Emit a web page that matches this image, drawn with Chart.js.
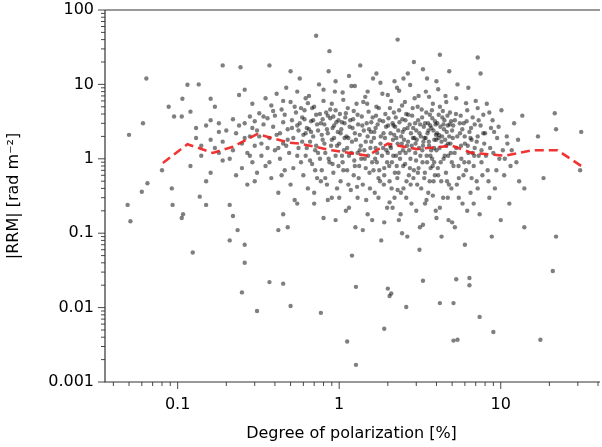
<!DOCTYPE html>
<html><head><meta charset="utf-8">
<script src="https://cdn.jsdelivr.net/npm/chart.js@4"></script>
<style>html,body{margin:0;padding:0;background:#fff}#c{display:block}</style>
</head><body>
<div style="width:602px;height:447px"><canvas id="c" width="602" height="447"></canvas></div>
<script>
const outliers=[[0.049,0.24],[0.051,0.145],[0.05,2.1],[0.064,12],[0.061,3.0],[0.06,0.36],[0.065,0.47],[0.08,0.7],[0.088,5],[0.095,3.7],[0.093,0.24],[0.092,0.4],[0.106,3.7],[0.107,6.4],[0.115,9.9],[0.135,10],[0.124,0.055],[0.106,0.16],[0.108,0.18],[0.12,4.3],[0.137,0.31],[0.15,0.24],[0.16,6.4],[0.19,18],[0.21,0.24],[0.21,0.08],[0.22,0.17],[0.245,17],[0.235,0.11],[0.25,0.016],[0.26,0.04],[0.26,0.07],[0.31,0.009],[0.37,18],[0.37,0.022],[0.45,0.021],[0.5,0.0105],[0.5,15],[0.45,0.18],[0.48,0.12],[0.42,0.11],
[0.72,45],[2.3,40],[0.87,28],[7.2,23],[4.2,25],[4.2,0.0115],[5.1,0.0115],[5.1,0.0036],[5.4,0.0037],[9.0,0.0047],[17.6,0.0037],[1.27,0.0017],[1.12,0.0035],[1.9,0.0052],[7.4,0.0075],[0.77,0.0085],[2.6,0.0102],[2.0,0.018],[2.05,0.0143],[2.1,0.0155],[1.27,0.019],[3.3,0.023],[5.3,0.024],[6.4,0.02],[6.4,0.025],[21,0.031],[22,0.09],[31.5,2.3],[31,0.7],[21.6,4.1],[22,2.5],[18.4,0.55],[14,0.12],[14,0.4],[13.6,3.8],[17,2.0]];
const cloud=[[0.3,3.2],[0.31,2.4],[0.32,4.1],[0.33,1.1],[0.34,2.9],[0.35,6.5],[0.35,0.8],[0.36,3.5],[0.37,1.9],[0.38,5.2],[0.38,0.55],[0.39,2.7],[0.4,3.8],[0.4,1.3],[0.41,7.5],[0.42,0.35],[0.43,2.2],[0.44,4.6],[0.45,1.6],[0.45,3.1],[0.46,0.7],[0.47,9.0],[0.48,2.5],[0.49,1.2],[0.5,5.8],[0.5,0.45],[0.51,3.3],[0.52,1.9],[0.53,0.28],[0.54,4.2],[0.55,2.8],[0.56,1.4],[0.57,12],[0.58,0.9],[0.59,3.6],[0.6,2.1],
[0.2,2.4],[0.21,1.0],[0.22,3.4],[0.23,0.6],[0.24,7.2],[0.25,1.6],[0.26,3.0],[0.27,0.45],[0.28,2.0],[0.29,5.5],[0.27,1.2],[0.25,0.75],[0.23,2.2],[0.29,0.9],[0.28,3.7],[0.26,8.5],[0.3,0.5],[0.3,1.5],
[0.13,1.9],[0.14,1.1],[0.15,2.8],[0.16,0.65],[0.17,1.4],[0.18,2.3],[0.19,0.95],[0.16,3.3],[0.15,0.5],[0.18,1.2],[0.12,0.8],[0.13,2.6],[0.17,5.0],[0.19,1.7],
[0.6,0.6],[0.61,4.5],[0.62,1.1],[0.63,2.6],[0.64,0.4],[0.65,7.0],[0.66,1.7],[0.67,3.2],[0.68,0.85],[0.69,2.0],[0.7,5.0],[0.7,0.25],[0.71,1.3],[0.72,3.9],[0.73,0.55],[0.74,2.4],[0.75,10],[0.76,1.0],[0.77,3.0],[0.78,0.7],[0.79,1.8],[0.8,6.0],[0.8,0.16],[0.81,2.9],[0.82,1.2],[0.83,4.2],[0.84,0.45],[0.85,2.2],[0.86,15],[0.87,0.9],[0.88,3.5],[0.89,1.5],[0.9,0.3],[0.9,5.5],[0.91,2.6],[0.92,0.65],[0.93,1.9],[0.94,8.0],[0.95,1.1],[0.96,3.1],[0.97,0.4],[0.98,2.3],[0.99,0.8],[0.65,2.5],[0.72,1.5],[0.85,3.8],[0.68,4.8],[0.78,2.1],[0.92,3.7],[0.63,1.4],
[1.0,1.6],[1.01,4.0],[1.02,0.5],[1.03,2.5],[1.05,0.9],[1.06,6.2],[1.07,1.3],[1.08,3.0],[1.1,0.2],[1.11,2.0],[1.12,0.7],[1.13,4.8],[1.15,1.1],[1.16,2.7],[1.18,0.38],[1.19,9.5],[1.2,1.7],[1.22,3.4],[1.23,0.6],[1.25,2.2],[1.26,0.12],[1.28,5.5],[1.3,1.2],[1.31,2.9],[1.33,0.8],[1.35,18],[1.36,1.5],[1.38,3.7],[1.4,0.45],[1.42,2.4],[1.44,1.0],[1.45,6.8],[1.47,0.28],[1.5,2.0],[1.52,4.3],[1.54,0.65],[1.56,1.4],[1.58,3.1],[1.6,0.9],[1.62,12],[1.64,1.9],[1.66,0.35],[1.68,2.6],[1.7,5.0],[1.72,1.2],[1.75,0.55],[1.78,3.3],[1.8,1.6],[1.82,0.08],[1.85,7.5],[1.88,2.2],[1.9,0.75],[1.93,4.0],[1.96,1.3],[1.98,0.22],[1.04,1.1],[1.14,1.9],[1.24,0.95],[1.34,1.3],[1.46,1.7],[1.57,2.3],[1.67,1.0],[1.77,0.7],[1.87,1.4],[1.09,3.6],[1.29,0.42],[1.49,5.5],[1.69,3.8],[1.89,0.45],[1.2,0.05],[1.6,0.15],
[2.0,1.2],[2.02,3.5],[2.05,0.5],[2.08,2.2],[2.1,6.0],[2.12,0.9],[2.15,1.8],[2.18,4.2],[2.2,0.3],[2.22,2.7],[2.25,1.1],[2.28,9.0],[2.3,1.6],[2.33,0.65],[2.36,3.1],[2.4,0.18],[2.42,2.0],[2.45,5.2],[2.48,1.3],[2.5,0.4],[2.53,2.5],[2.56,0.85],[2.6,4.0],[2.63,1.5],[2.66,14],[2.7,0.6],[2.73,2.9],[2.76,1.0],[2.8,0.25],[2.83,3.8],[2.86,1.9],[2.9,0.7],[2.93,6.5],[2.96,1.2],[3.0,2.4],[3.04,0.45],[3.08,3.3],[3.12,1.4],[3.16,0.12],[3.2,2.0],[3.24,4.6],[3.28,0.9],[3.32,1.7],[3.36,0.55],[3.4,3.0],[3.44,8.0],[3.48,1.1],[3.52,2.2],[3.56,0.35],[3.6,1.5],[3.64,3.9],[3.68,0.75],[3.72,2.6],[3.76,1.0],[3.8,5.5],[3.84,0.5],[3.88,1.8],[3.92,3.2],[3.96,0.2],[2.07,1.5],[2.17,2.8],[2.27,0.8],[2.37,1.2],[2.47,2.3],[2.57,3.3],[2.67,1.7],[2.77,0.45],[2.87,2.6],[2.97,1.6],[3.07,0.65],[3.17,2.9],[3.27,1.3],[3.37,1.9],[3.47,0.28],[3.57,2.4],[3.67,1.1],[3.77,3.5],[3.87,0.9],[3.97,2.1],[2.14,0.22],[2.64,0.09],[3.14,0.06],[2.34,0.15],[2.9,20],[3.5,12],[2.2,11],
[4.0,1.3],[4.05,3.0],[4.1,0.6],[4.15,2.1],[4.2,5.0],[4.25,0.9],[4.3,1.7],[4.35,3.6],[4.4,0.3],[4.45,2.5],[4.5,1.1],[4.55,7.0],[4.6,1.5],[4.65,0.5],[4.7,2.8],[4.75,0.15],[4.8,2.0],[4.85,4.2],[4.9,1.2],[4.95,0.4],[5.0,2.4],[5.1,0.8],[5.2,3.3],[5.3,1.4],[5.4,10],[5.5,0.55],[5.6,2.2],[5.7,1.0],[5.8,0.25],[5.9,3.0],[6.0,1.6],[6.1,0.7],[6.2,4.5],[6.3,1.2],[6.4,2.3],[6.5,0.35],[6.6,1.8],[6.7,3.6],[6.8,0.8],[6.9,1.4],[7.0,6.0],[7.1,0.5],[7.2,2.0],[7.3,1.1],[7.4,0.18],[7.5,2.8],[7.6,1.3],[7.7,0.6],[7.8,3.9],[7.9,1.6],[4.12,1.9],[4.42,2.9],[4.72,1.6],[5.05,1.9],[5.35,0.45],[5.65,3.8],[5.95,0.9],[6.25,1.5],[6.55,2.6],[6.85,1.1],[4.3,0.09],[5.2,0.12],[6.0,0.07],[4.8,15],[6.3,9],[7.5,14],
[8.0,2.2],[8.3,0.7],[8.6,1.4],[8.9,3.3],[9.2,0.4],[9.5,1.9],[9.8,1.0],[10.1,4.5],[10.5,0.6],[10.9,2.0],[11.3,0.25],[11.7,1.3],[12.1,3.0],[12.5,0.9],[13,0.5],[8.2,5.5],[9.0,1.2],[10,0.15],[11,1.6],[8.5,0.3],[9.7,2.7],[12.8,1.8],[8.8,0.09],[10.6,1.0]];
const core=[[0.32,2.0],[0.34,3.7],[0.36,1.4],[0.39,4.4],[0.41,2.1],[0.43,1.0],[0.46,3.9],[0.48,1.8],[0.51,2.6],[0.53,5.0],[0.55,1.1],[0.57,3.0],[0.59,1.7],[0.61,3.4],[0.62,2.2],[0.64,5.6],[0.66,0.95],[0.67,2.3],[0.69,3.3],[0.71,0.7],[0.73,2.9],[0.74,1.2],[0.76,4.0],[0.77,0.5],[0.79,3.4],[0.81,1.6],[0.82,0.55],[0.84,2.5],[0.86,1.0],[0.88,4.6],[0.9,1.8],[0.91,0.85],[0.93,2.8],[0.95,4.5],[0.97,1.5],[0.99,3.3],
[1.02,2.2],[1.04,3.1],[1.06,0.7],[1.08,1.9],[1.1,4.1],[1.12,1.4],[1.14,0.45],[1.17,3.3],[1.19,1.2],[1.21,2.6],[1.23,4.4],[1.25,0.8],[1.27,1.8],[1.3,3.9],[1.32,0.55],[1.34,2.1],[1.37,1.0],[1.39,2.8],[1.41,5.8],[1.43,1.3],[1.46,0.75],[1.48,3.0],[1.51,1.1],[1.53,2.5],[1.55,0.4],[1.58,1.7],[1.61,3.6],[1.63,0.7],[1.65,2.3],[1.68,1.4],[1.71,0.9],[1.73,2.9],[1.76,4.8],[1.79,0.5],[1.81,2.0],[1.84,1.1],[1.87,3.2],[1.9,0.6],[1.92,1.9],[1.95,2.7],[1.98,0.9],
[2.01,2.8],[2.04,0.8],[2.06,4.8],[2.09,1.4],[2.11,0.4],[2.14,3.0],[2.16,1.1],[2.19,2.1],[2.21,0.65],[2.24,3.6],[2.26,1.9],[2.29,0.55],[2.32,2.4],[2.35,4.5],[2.38,1.0],[2.41,0.35],[2.44,1.6],[2.46,3.4],[2.49,0.8],[2.52,1.8],[2.55,5.8],[2.58,1.2],[2.61,0.5],[2.65,2.6],[2.68,3.9],[2.71,1.3],[2.74,0.75],[2.78,2.2],[2.81,1.5],[2.85,4.8],[2.88,0.55],[2.92,1.9],[2.95,3.0],[2.99,0.95],[3.02,1.8],[3.06,5.0],[3.1,0.75],[3.14,2.2],[3.18,1.1],[3.22,0.4],[3.26,3.6],[3.3,1.5],[3.34,2.7],[3.39,0.65],[3.43,1.9],[3.46,4.2],[3.5,0.9],[3.55,3.0],[3.59,1.7],[3.63,0.5],[3.66,2.8],[3.71,1.3],[3.75,4.5],[3.79,0.8],[3.83,2.4],[3.87,1.4],[3.91,0.6],[3.95,2.9],[3.99,1.8],
[4.03,2.2],[4.08,0.75],[4.13,3.9],[4.18,1.4],[4.23,2.7],[4.28,0.5],[4.33,2.0],[4.38,4.4],[4.43,1.0],[4.48,3.3],[4.53,1.8],[4.58,0.65],[4.63,2.3],[4.68,3.8],[4.73,1.1],[4.78,0.45],[4.83,2.9],[4.88,1.6],[4.93,3.2],[4.98,0.9],[5.08,2.8],[5.18,1.2],[5.28,4.0],[5.38,2.0],[5.48,0.8],[5.58,3.0],[5.68,1.5],[5.78,2.5],[5.88,0.6],[5.98,2.0],[6.15,3.2],[6.35,0.9],[6.5,1.9],[6.7,1.2],[6.9,2.9],[7.1,1.7],[7.3,3.3],[7.6,0.9],[7.8,2.2],
[0.22,1.3],[0.24,2.8],[0.26,1.9],[0.28,1.1],[0.29,2.6],[0.31,0.65],[0.33,1.6],[0.37,0.9],[0.42,1.4],[0.44,0.6],[0.47,1.5],[0.52,0.75],[0.56,2.4],[0.58,4.8],[0.16,1.8],[0.18,3.0],[0.14,1.5],
[0.7,0.35],[0.85,0.28],[1.0,0.3],[1.15,0.22],[1.3,0.3],[1.5,0.18],[1.75,0.3],[2.05,0.26],[2.3,0.38],[2.6,0.3],[3.0,0.2],[3.4,0.25],[3.8,0.32],[4.2,0.22],[4.7,0.3],[5.5,0.3],[6.2,0.2],[0.55,0.25],[0.95,0.15],[1.4,0.11],[1.9,0.14],[2.45,0.1],[3.3,0.13],[4.0,0.16],[5.0,0.14],[6.8,0.25],[8.4,0.5],[9.4,0.7],[10.3,1.3],[11.5,0.8],[9.1,2.3],[8.1,1.1],[8.7,2.6],[7.2,0.4],[6.6,0.55],
[0.62,6.5],[0.8,8.5],[1.05,7.8],[1.25,9.5],[1.5,8.0],[1.8,10.5],[2.0,7.2],[2.35,8.2],[2.75,9.8],[3.1,7.0],[3.6,6.8],[4.1,8.6],[4.6,5.8],[5.3,6.5],[6.1,5.6],[7.2,4.8],[8.5,4.2],[1.15,13],[1.7,14],[2.5,12],[3.3,16],[0.95,11],[0.55,8.0],[0.45,6.0],[4.0,11]];
const trendX=[0.081,0.115,0.165,0.22,0.31,0.49,0.57,0.9,1.5,2.0,3.0,5.0,6.6,10.7,15.5,22.5,31.5];
const trendY=[0.88,1.57,1.2,1.45,2.15,1.65,1.6,1.3,1.1,1.6,1.35,1.5,1.2,1.1,1.3,1.3,0.8];
const yTickValues=[0.001,0.01,0.1,1,10,100];
const yTickLabels=['0.001','0.01','0.1','1','10','100'];
const xTickValues=[0.1,1,10];
const xTickLabels=['0.1','1','10'];

const pts=outliers.concat(cloud,core).map(p=>({x:p[0],y:p[1]}));
const trend=trendX.map((x,i)=>({x:x,y:trendY[i]}));
const FONT='"DejaVu Sans", sans-serif';
const axesPlugin={id:'ax',afterDraw(ch){
  const c=ch.ctx,a=ch.chartArea,xs=ch.scales.x,ys=ch.scales.y;
  c.save();c.strokeStyle='#333';c.lineWidth=1.2;
  c.beginPath();c.moveTo(a.left,a.top);c.lineTo(a.right+2,a.top);
  c.moveTo(a.left,a.top);c.lineTo(a.left,a.bottom);c.lineTo(a.right+2,a.bottom);c.stroke();
  c.lineWidth=0.9;c.beginPath();
  for(let e=-2;e<=1;e++)for(let m=1;m<10;m++){const v=m*Math.pow(10,e);if(v<xs.min||v>xs.max)continue;
    const px=xs.getPixelForValue(v),L=m===1?7:4;c.moveTo(px,a.bottom);c.lineTo(px,a.bottom+L);}
  for(let e=-3;e<=2;e++)for(let m=1;m<10;m++){const v=m*Math.pow(10,e);if(v<ys.min-1e-12||v>ys.max+1e-9)continue;
    const py=ys.getPixelForValue(v),L=m===1?7:4;c.moveTo(a.left,py);c.lineTo(a.left-L,py);}
  c.stroke();c.restore();}};
new Chart(document.getElementById('c'),{
  type:'scatter',
  data:{datasets:[
    {data:pts,pointRadius:2.2,pointBorderWidth:0,backgroundColor:'rgba(0,0,0,0.5)',order:2},
    {type:'line',data:trend,borderColor:'rgba(240,30,30,0.9)',borderWidth:2.6,borderDash:[9,5],pointRadius:0,fill:false,tension:0,order:1}
  ]},
  plugins:[axesPlugin],
  options:{responsive:false,animation:false,
    layout:{padding:{top:10,right:0,left:0,bottom:0}},
    plugins:{legend:{display:false},tooltip:{enabled:false}},
    scales:{
      x:{type:'logarithmic',min:0.0355,max:40,
        afterBuildTicks(s){s.ticks=xTickValues.map(v=>({value:v}));},
        grid:{display:false,drawTicks:false},border:{display:false},
        ticks:{autoSkip:false,maxRotation:0,color:'#000',font:{family:FONT,size:16},padding:13,
          callback:(v,i)=>xTickLabels[i]},
        title:{display:true,text:'Degree of polarization [%]',color:'#000',font:{family:FONT,size:16},padding:{top:4}},
        afterFit(s){s.height=65;s.paddingLeft=0;s.paddingRight=0;}},
      y:{type:'logarithmic',min:0.001,max:100,
        afterBuildTicks(s){s.ticks=yTickValues.map(v=>({value:v}));},
        grid:{display:false,drawTicks:false},border:{display:false},
        ticks:{autoSkip:false,color:'#000',font:{family:FONT,size:16},padding:11,
          callback:(v,i)=>yTickLabels[i]},
        title:{display:true,text:'|RRM| [rad m\u207B\u00B2]',color:'#000',font:{family:FONT,size:16},padding:{bottom:2}},
        afterFit(s){s.width=105;s.paddingTop=0;s.paddingBottom=0;}}
    }}
});
</script></body></html>
